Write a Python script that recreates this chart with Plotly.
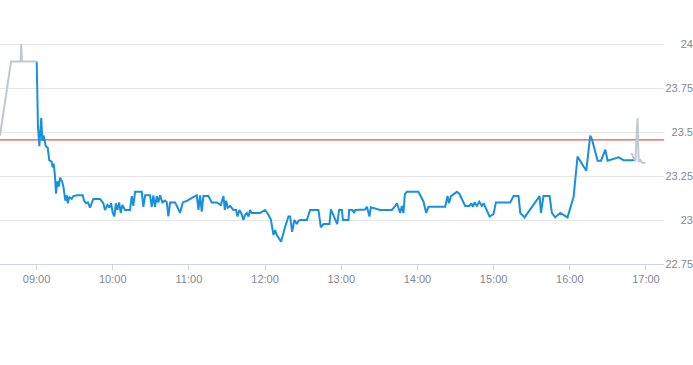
import plotly.graph_objects as go

# time in minutes after midnight, price values
pre_t = [511.2, 519.9, 527.4, 527.9, 528.5, 540.1]
pre_v = [23.48, 23.90, 23.90, 24.00, 23.90, 23.90]

blue_t = [540.1, 541.1, 542.2, 543.7, 544.5, 545.6, 547.2, 548.8, 550.0, 551.9,
          552.7, 553.5, 554.5, 555.3, 556.4, 557.5, 558.5, 560.1, 561.1, 562.7,
          563.8, 564.6, 565.8, 567.7, 569.0, 572.1, 576.4, 577.4, 579.0, 580.5,
          582.1, 583.5, 584.7, 590.0, 592.6, 593.9, 595.8, 597.3, 598.7, 600.0,
          601.3, 602.4, 603.6, 605.0, 606.3, 607.6, 609.7, 613.6, 615.0, 616.2,
          617.6, 622.9, 624.1, 625.5, 629.4, 630.7, 632.0, 633.3, 634.7, 635.9,
          637.3, 639.1, 641.2, 642.6, 643.8, 645.2, 649.1, 651.2, 653.0, 655.2,
          658.8, 663.5, 666.2, 667.5, 668.3, 668.8, 670.1, 671.4, 675.3, 678.0,
          682.0, 685.1, 687.2, 688.3, 689.3, 690.6, 692.4, 695.0, 697.2, 698.2,
          699.8, 701.7, 702.9, 704.3, 705.6, 706.9, 708.2, 709.5, 716.1, 720.0,
          722.6, 724.5, 726.6, 727.9, 729.2, 732.6, 735.8, 738.4, 739.7, 741.3,
          743.1, 745.0, 746.3, 747.6, 752.9, 755.5, 762.0, 763.9, 766.0, 770.7,
          771.8, 773.8, 776.8, 778.3, 780.5, 781.3, 785.7, 786.2, 788.8, 790.2,
          791.0, 798.8, 800.2, 802.2, 803.3, 810.6, 819.9, 822.5, 823.8, 826.4,
          827.7, 829.0, 830.1, 831.7, 840.8, 844.8, 846.9, 848.7, 861.9, 863.7,
          864.8, 866.4, 871.1, 873.1, 877.6, 881.0, 882.4, 883.7, 885.0, 886.8,
          888.7, 890.8, 892.1, 896.8, 899.9, 901.8, 913.1, 915.7, 919.6, 921.0,
          924.4, 936.2, 937.3, 939.3, 944.1, 945.9, 948.5, 952.5, 958.2, 963.0,
          966.1, 973.0, 976.1, 977.5, 981.9, 984.6, 988.0, 989.8, 998.4, 1002.4,
          1011.6]
blue_v = [23.90, 23.53, 23.42, 23.58, 23.45, 23.48, 23.42, 23.41, 23.34, 23.33,
          23.30, 23.32, 23.25, 23.15, 23.22, 23.19, 23.24, 23.22, 23.19, 23.11,
          23.14, 23.095, 23.13, 23.12, 23.136, 23.14, 23.14, 23.11, 23.095, 23.10,
          23.07, 23.095, 23.12, 23.12, 23.095, 23.057, 23.085, 23.07, 23.095, 23.04,
          23.02, 23.095, 23.057, 23.10, 23.04, 23.085, 23.057, 23.057, 23.136, 23.08,
          23.16, 23.16, 23.075, 23.14, 23.14, 23.075, 23.14, 23.075, 23.136, 23.10,
          23.14, 23.10, 23.11, 23.10, 23.02, 23.10, 23.10, 23.07, 23.04, 23.10,
          23.11, 23.13, 23.14, 23.057, 23.12, 23.14, 23.047, 23.136, 23.136, 23.10,
          23.10, 23.085, 23.136, 23.057, 23.11, 23.07, 23.08, 23.057, 23.057, 23.02,
          23.057, 23.03, 23.00, 23.03, 23.04, 23.02, 23.057, 23.04, 23.04, 23.057,
          23.03, 23.004, 22.915, 22.943, 22.915, 22.877, 22.962, 23.02, 23.02, 22.933,
          23.00, 22.977, 22.996, 23.00, 23.00, 23.057, 23.057, 22.958, 22.977, 22.977,
          23.06, 23.03, 22.977, 23.057, 23.057, 23.00, 23.00, 23.057, 23.057, 23.04,
          23.057, 23.06, 23.075, 23.02, 23.072, 23.057, 23.057, 23.08, 23.095, 23.04,
          23.08, 23.04, 23.148, 23.16, 23.16, 23.104, 23.04, 23.075, 23.075, 23.136,
          23.095, 23.136, 23.16, 23.148, 23.08, 23.08, 23.095, 23.075, 23.10, 23.08,
          23.104, 23.08, 23.095, 23.02, 23.034, 23.10, 23.10, 23.136, 23.136, 23.04,
          23.015, 23.136, 23.04, 23.136, 23.136, 23.04, 23.015, 23.04, 23.015, 23.132,
          23.36, 23.28, 23.479, 23.458, 23.337, 23.337, 23.40, 23.337, 23.356, 23.34,
          23.34]

post_t = [1008.4, 1011.6, 1013.4, 1014.2, 1015.5, 1017.1, 1019.5]
post_v = [23.38, 23.335, 23.58, 23.33, 23.34, 23.324, 23.325]

prev_close = 23.455

x_range = [511.2, 1034.2]
x_tickvals = [540, 600, 660, 720, 780, 840, 900, 960, 1020]
x_ticktext = ["09:00", "10:00", "11:00", "12:00", "13:00", "14:00", "15:00", "16:00", "17:00"]

y_range = [22.75, 24.0227]
y_tickvals = [22.75, 23.0, 23.25, 23.5, 23.75, 24.0]
y_ticktext = ["22.75", "23", "23.25", "23.5", "23.75", "24"]

BLUE = "#1990dc"
GRAY = "#bfc9d2"
LABEL = "#7f8896"
FONT = "Liberation Sans, Arial, sans-serif"

# layout geometry (pixels)
W, H = 693, 365
M_T, M_B = 30, 85              # outer plot region (label axis spans it)
PLOT_TOP, PLOT_BOT = 40, 264   # data plot area
area_h = H - M_T - M_B
dom_lo = (H - M_B - PLOT_BOT) / area_h
dom_hi = (H - M_B - PLOT_TOP) / area_h
px_per_unit = (PLOT_BOT - PLOT_TOP) / (y_range[1] - y_range[0])
y2_range = [y_range[0] - (H - M_B - PLOT_BOT) / px_per_unit,
            y_range[1] + (PLOT_TOP - M_T) / px_per_unit]

fig = go.Figure()
fig.add_trace(go.Scatter(x=blue_t, y=blue_v, mode="lines",
                         line=dict(color=BLUE, width=2), showlegend=False))
fig.add_trace(go.Scatter(x=pre_t, y=pre_v, mode="lines",
                         line=dict(color=GRAY, width=2), showlegend=False))
fig.add_trace(go.Scatter(x=post_t, y=post_v, mode="lines",
                         line=dict(color=GRAY, width=2), showlegend=False))
# invisible trace that carries the label axis
fig.add_trace(go.Scatter(x=blue_t, y=blue_v, mode="lines", yaxis="y2",
                         line=dict(color="rgba(0,0,0,0)", width=0),
                         hoverinfo="skip", showlegend=False))

fig.add_shape(type="line", xref="x domain", x0=0, x1=1, yref="y",
              y0=prev_close, y1=prev_close, line=dict(color="#dd2a22", width=1),
              layer="below")

fig.update_layout(
    width=W, height=H,
    margin=dict(l=0, r=0, t=M_T, b=M_B, autoexpand=False),
    paper_bgcolor="white", plot_bgcolor="rgba(0,0,0,0)",
    font=dict(family=FONT, size=11, color=LABEL),
    xaxis=dict(domain=[0, 664 / 693], range=x_range, tickmode="array",
               tickvals=x_tickvals, ticktext=x_ticktext, showgrid=False,
               zeroline=False, showline=True, linecolor="#ccd6eb", linewidth=1,
               ticks="outside", ticklen=5, tickcolor="#ccd6eb", anchor="y",
               tickfont=dict(family=FONT, size=11, color=LABEL)),
    yaxis=dict(domain=[dom_lo, dom_hi], range=y_range, tickmode="array",
               tickvals=y_tickvals, showticklabels=False, showgrid=True,
               gridcolor="#e6e6e6", gridwidth=1, zeroline=False, side="right"),
    yaxis2=dict(domain=[0, 1], range=y2_range, anchor="free", position=1.0,
                side="right", tickmode="array", tickvals=y_tickvals,
                ticktext=y_ticktext, ticklabelposition="inside",
                ticklabelstandoff=-3,
                showgrid=False, zeroline=False, showline=False, ticks="",
                tickfont=dict(family=FONT, size=11, color=LABEL)),
    hovermode=False,
)

fig.write_html("out.html", config={"displayModeBar": False},
               post_script="document.body.style.margin='0';")
